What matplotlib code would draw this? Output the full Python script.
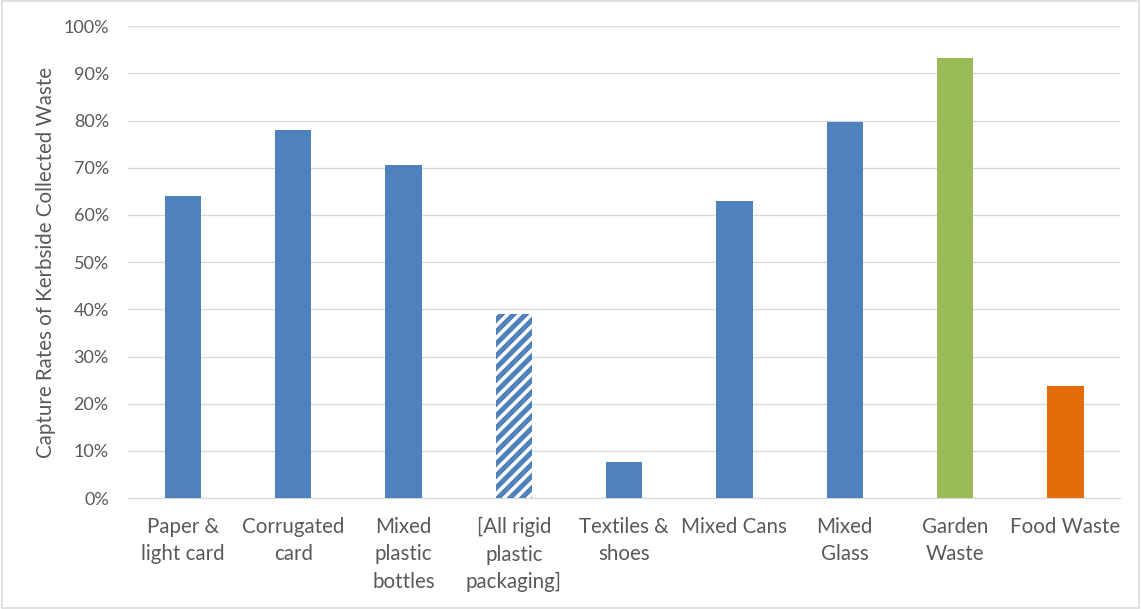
import numpy as np
import matplotlib
matplotlib.use("Agg")
from matplotlib import pyplot as plt
from matplotlib.ticker import PercentFormatter

categories = ["Paper &\nlight card", "Corrugated\ncard", "Mixed\nplastic\nbottles",
              "[All rigid\nplastic\npackaging]", "Textiles &\nshoes", "Mixed Cans",
              "Mixed\nGlass", "Garden\nWaste", "Food Waste"]
rates = [64.0, 78.0, 70.5, 39.0, 7.6, 62.9, 79.8, 93.2, 23.7]

blue = "#4F81BD"
green = "#9BBB59"
orange = "#E46C0A"
colours = [blue, blue, blue, "white", blue, blue, blue, green, orange]

# dpi 72 so that 1 pt == 1 px (hatch unit is then 72 px too)
DPI = 72
plt.rcParams['font.family'] = ['Lato', 'DejaVu Sans']
plt.rcParams['hatch.linewidth'] = 5

fig = plt.figure(figsize=(1141 / DPI, 609 / DPI), dpi=DPI)
ax = fig.add_axes([0.112, 0.182, 0.870, 0.775])

x = np.arange(len(categories))
bars = ax.bar(x, rates, width=0.33, color=colours, linewidth=0, zorder=3)
# striped bar for the estimate
bars[3].set_hatch("//")
bars[3].set_edgecolor(blue)

ax.set_xlim(-0.5, len(categories) - 0.5)
ax.set_ylim(0, 100)
ax.set_yticks(np.arange(0, 101, 10))
ax.yaxis.set_major_formatter(PercentFormatter(decimals=0))
ax.set_xticks(x)
ax.set_xticklabels(categories, fontsize=20.5, color="#595959", linespacing=1.45)
ax.tick_params(axis='y', labelsize=18, colors="#595959", length=0, pad=19)
ax.tick_params(axis='x', length=0, pad=19)
ax.grid(axis='y', color="#D9D9D9", linewidth=1.3, zorder=0)
for s in ["top", "right", "left"]:
    ax.spines[s].set_visible(False)
ax.spines["bottom"].set_color("#D9D9D9")
ax.spines["bottom"].set_linewidth(1.3)
ax.set_ylabel("Capture Rates of Kerbside Collected Waste", fontsize=20.5, color="#595959", labelpad=7)

# light frame round the whole chart
fig.patches.append(plt.Rectangle((0.002, 0.002), 0.996, 0.996, transform=fig.transFigure,
                                 fill=False, edgecolor="#D9D9D9", linewidth=1.5))

fig.savefig("out.png", dpi=DPI)
